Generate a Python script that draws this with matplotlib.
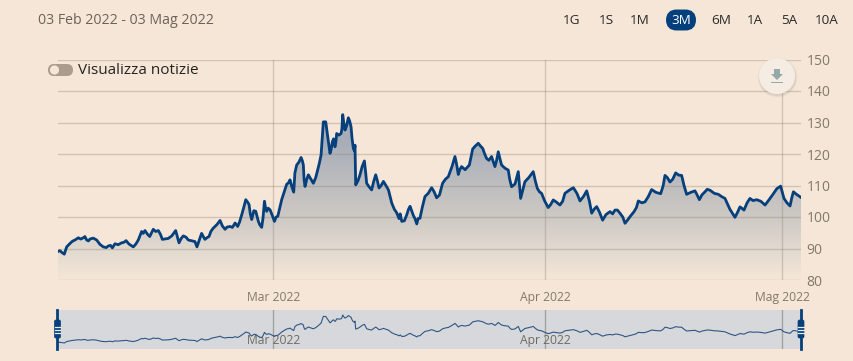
import matplotlib
matplotlib.use("Agg")
import matplotlib.pyplot as plt
from matplotlib.colors import LinearSegmentedColormap
from matplotlib.patches import Circle, FancyBboxPatch, Rectangle, Polygon
import numpy as np

# ---- data ----
sessions_a = [0.0,0.35,0.57,0.77,1.05,1.47,1.75,2.17,2.45,2.73,3.29,3.57,3.85,4.27,4.61,4.83,5.39,5.76,6.01,6.37,6.79,7.07,7.35,7.75,8.05,8.47,8.81,9.31,9.93,10.21,10.57,10.99,11.55,11.72,12.11,12.39,12.73,13.1,13.66,14.08,14.5,
14.92,15.14,15.48,15.82,16.10,16.32,16.66,16.88,17.16,17.39,17.58,17.86,18.23,18.51,18.84,19.26,19.54,19.85,20.1,20.47,20.66,20.8,21.08,21.5,21.87,22.15,22.34,22.54,22.71,22.9,23.1,23.32,23.46,23.83,23.97,24.16,24.44,24.67,24.86,25.0,25.06,25.42,25.79,25.98,26.4,26.74,27.02,27.39,27.81,28.09,28.51,28.93,29.35,29.63,30.19,
30.46,30.88,31.44,31.86,32.36,32.84,33.4,33.68,33.96,34.61,34.89,35.36,35.73,36.06,36.48,36.76,37.04,37.32,37.88,38.16,38.72,38.92,39.28,39.98,40.32,40.68,41.24,41.66,42.22,42.64,43.35,43.91,44.47,44.89,45.31,45.81,
46.43,46.85,47.27,47.69,48.11,48.45,48.81,49.37,49.93,50.69,51.05,51.47,51.95,52.45,52.87,53.57,53.94,54.41,54.83,55.53,56.09,56.93,57.35,57.69,58.19,58.75,59.46,60.16,60.77,61.05,61.56,61.84,62.48]
prices_a = [89.0,88.8,88.2,90.5,91.6,92.7,93.4,93.4,92.7,93.0,92.7,91.3,90.5,90.8,90.2,91.5,91.8,92.5,91.4,90.5,92.7,95.4,95.7,93.8,96.1,95.7,92.9,93.2,95.7,91.8,94.0,92.7,92.2,90.5,94.8,92.9,93.8,96.5,98.9,96.1,97.0,
98.1,97.0,100.7,105.5,103.9,99.2,101.8,98.6,96.7,105.0,101.8,102.3,98.6,100.2,105.5,110.4,111.8,107.9,116.5,118.9,116.5,109.7,113.4,110.7,115.0,119.7,130.2,130.2,125.5,120.2,123.9,122.3,126.5,126.5,132.5,127.6,131.5,128.6,121.8,122.8,110.2,113.4,117.8,110.7,108.6,113.4,109.2,111.3,108.6,104.4,101.3,98.6,100.7,103.4,97.8,
99.6,106.5,109.3,106.1,110.7,112.8,119.2,113.5,116.0,116.5,121.6,123.4,121.8,118.6,119.2,116.0,120.7,116.5,114.9,109.6,114.4,105.9,111.2,114.4,109.1,107.5,103.0,105.4,103.8,107.5,109.3,105.1,108.3,101.2,103.3,99.0,
101.7,102.2,101.2,98.0,100.1,101.7,105.1,104.8,108.7,107.4,113.2,111.1,114.0,113.2,107.2,108.3,105.5,108.0,108.5,107.2,105.9,99.9,103.2,102.2,105.9,105.5,103.8,107.4,109.8,105.9,103.5,108.0,106.2]
sessions_b = [0.2,1.25,1.95,2.3,2.6,3.0,4.1,4.45,5.1,5.6,6.6,7.2,7.55,8.25,8.65,9.6,10.05,10.4,10.8,11.2,11.9,12.25,12.55,12.9,13.4,13.85,14.25,14.7,
15.3,15.65,16.0,16.2,16.5,16.75,17.0,17.28,17.48,17.7,18.05,18.37,19.05,19.4,19.7,19.95,20.3,20.58,20.72,20.95,21.3,21.7,22.0,22.25,22.62,22.8,23.0,23.2,23.4,23.65,23.9,24.05,24.3,24.55,24.75,24.95,25.25,25.6,25.9,26.2,26.55,26.88,27.2,27.6,27.95,28.3,28.7,28.8,29.15,29.5,29.9,30.05,30.3,
30.65,31.15,31.65,32.1,32.6,33.15,33.55,33.8,34.25,34.75,35.1,35.55,35.9,36.25,36.62,36.9,37.18,37.6,38.0,38.45,38.82,39.1,39.6,40.15,40.5,40.95,41.45,41.9,42.45,43.0,43.65,44.2,44.7,45.1,45.55,46.1,
46.65,47.05,47.5,47.9,48.3,48.65,49.1,49.65,50.3,50.9,51.25,51.7,52.2,52.65,53.2,53.75,54.15,54.6,55.2,55.8,56.5,57.15,57.5,57.95,58.45,59.1,59.8,60.45,60.9,61.3,61.7,62.1]
prices_b = [89.3,92.3,93.0,93.8,92.4,93.3,90.3,91.0,91.2,92.0,91.5,94.8,94.6,95.4,94.5,94.0,94.0,93.2,93.6,92.5,92.5,93.8,93.4,95.5,97.6,97.2,96.8,96.7,
98.4,103.0,104.6,101.0,102.0,100.5,97.5,100.0,103.0,102.8,100.5,100.0,108.0,110.8,109.5,114.0,117.5,117.8,112.0,112.0,112.0,112.5,117.0,125.0,128.0,123.0,121.5,124.8,124.0,126.0,128.0,130.0,129.0,130.5,125.0,121.0,111.5,116.0,114.0,109.5,111.0,111.5,110.0,110.0,106.5,102.5,99.5,101.0,98.8,102.5,100.5,99.4,99.5,
103.0,107.5,108.0,107.0,112.0,116.0,116.5,115.0,115.0,119.0,122.5,122.5,120.0,118.0,117.5,118.0,118.5,115.5,112.0,110.5,110.0,108.5,112.5,111.5,108.0,105.0,104.0,104.8,105.0,108.5,107.5,106.5,105.0,102.5,101.5,100.8,
101.0,102.2,100.0,99.0,101.0,103.0,104.5,106.5,107.8,110.0,112.5,112.0,113.3,110.0,107.8,107.0,107.0,108.8,107.5,106.5,102.5,101.5,102.8,104.5,105.2,105.0,105.5,109.0,108.0,104.5,106.0,107.2]
month_positions = [18.15, 40.97, 60.88]
month_labels = ["Mar 2022", "Apr 2022", "Mag 2022"]
y_ticks = [80, 90, 100, 110, 120, 130, 140, 150]
range_buttons = ["1G", "1S", "1M", "3M", "6M", "1A", "5A", "10A"]
range_centres = [572, 606, 640, 681, 721, 755, 789, 827]
date_range = "03 Feb 2022 - 03 Mag 2022"

order = np.argsort(sessions_a + sessions_b)
sessions = np.array(sessions_a + sessions_b)[order]
prices = np.array(prices_a + prices_b)[order]

BG = "#f5e6d7"; NAVY = "#053f7c"; TXT = "#83786c"
W, H = 854, 361
plt.rcParams["font.family"] = ["Open Sans", "DejaVu Sans"]
fig = plt.figure(figsize=(W/100, H/100), dpi=100, facecolor=BG)

def axes_px(x0, y0, x1, y1, **kw):
    return fig.add_axes([x0/W, 1-y1/H, (x1-x0)/W, (y1-y0)/H], **kw)

# main chart
ax = axes_px(57.5, 59.5, 801, 280, facecolor="none")
xmax = 62.48
cmap = LinearSegmentedColormap.from_list("g", [(0, "#f5e6d7"), (0.2, "#e0d8cf"), (0.4, "#cbc7c3"),
                                              (0.5, "#c4c2c1"), (0.8, "#a9afb9"), (1, "#a3abb7")])
grad = np.linspace(1, 0, 256).reshape(-1, 1)
im = ax.imshow(grad, extent=[0, xmax, 80, 133], aspect="auto", cmap=cmap, zorder=1, vmin=0, vmax=1)
poly = ax.fill_between(sessions, prices, 80, color="none", zorder=1)
im.set_clip_path(poly.get_paths()[0], transform=ax.transData)
ax.set_xlim(0, xmax); ax.set_ylim(80, 150)
ax.set_yticks(y_ticks)
ax.set_xticks(month_positions, month_labels)
ax.grid(True, color="#8d7f70", alpha=0.34, lw=1, zorder=2)
ax.set_axisbelow(False)
ax.plot(sessions, prices, color=NAVY, lw=2.0, solid_joinstyle="round", zorder=3)
for s in ax.spines.values():
    s.set_visible(False)
ax.yaxis.tick_right()
ax.tick_params(axis="y", length=0, pad=4, labelsize=10, labelcolor=TXT)
ax.tick_params(axis="x", length=0, pad=8, labelsize=8.7, labelcolor=TXT)

# navigator
nav = axes_px(57.5, 310, 801, 349, facecolor="#d6d8db")
nav.set_xlim(0, xmax); nav.set_ylim(78.7, 140.4)
nav.plot(sessions, prices, color="#2f5686", lw=0.8, zorder=2)
nav.set_yticks([])
nav.set_xticks(month_positions, ["Mar 2022", "Apr 2022", ""])
nav.grid(True, axis="x", color="#a2a2a0", lw=1, zorder=1)
nav.set_axisbelow(True)
for s in nav.spines.values():
    s.set_visible(False)
nav.tick_params(axis="x", length=0, pad=-11, labelsize=8.7, labelcolor="#6f6a62")

# overlay in pixel coordinates: interface furniture
ui = fig.add_axes([0, 0, 1, 1], facecolor="none")
ui.set_xlim(0, W); ui.set_ylim(H, 0); ui.axis("off")
ui.text(38, 21, date_range, fontsize=10.2, color="#6c6258", va="center", ha="left")
ui.add_patch(FancyBboxPatch((669.5, 13), 23, 14, boxstyle="round,pad=0,rounding_size=7", fc=NAVY, ec=NAVY, lw=5))
for lab, cx in zip(range_buttons, range_centres):
    ui.text(cx, 20.5, lab, fontsize=9.7, ha="center", va="center", color="white" if lab == "3M" else "#2b2a28")
# toggle
ui.add_patch(FancyBboxPatch((48, 64), 25, 12, boxstyle="round,pad=0,rounding_size=6", fc="#ab9c8e", ec="#ab9c8e", lw=0))
ui.add_patch(Circle((54.5, 70), 4.6, fc=BG, ec="none"))
ui.text(78, 70.5, "Visualizza notizie", fontsize=11, color="#26241f", va="center", ha="left")
# download button
for r, a in [(20, .05), (19.2, .08), (18.5, .1)]:
    ui.add_patch(Circle((777.5, 77.5), r, fc="#8a8070", ec="none", alpha=a))
ui.add_patch(Circle((777, 76), 18, fc="#f5ece4", ec="none"))
ui.add_patch(Polygon([(774, 69), (780, 69), (780, 74), (783, 74), (777, 80), (771, 74), (774, 74)], fc="#97a8aa", ec="none"))
ui.add_patch(Rectangle((771, 81.5), 12, 1.8, fc="#97a8aa", ec="none"))
# navigator handles
for hx in (57.5, 801):
    ui.plot([hx, hx], [310, 349], color=NAVY, lw=2)
    ui.add_patch(FancyBboxPatch((hx-3, 320), 6, 18, boxstyle="round,pad=0,rounding_size=1.5", fc=NAVY, ec=NAVY, lw=0.5, zorder=4))
    for yy in (326.5, 329.5, 332.5):
        ui.plot([hx-2.6, hx+2.6], [yy, yy], color="#e8ecf0", lw=0.9, zorder=5)

fig.savefig("out.png", dpi=100, facecolor=BG)
